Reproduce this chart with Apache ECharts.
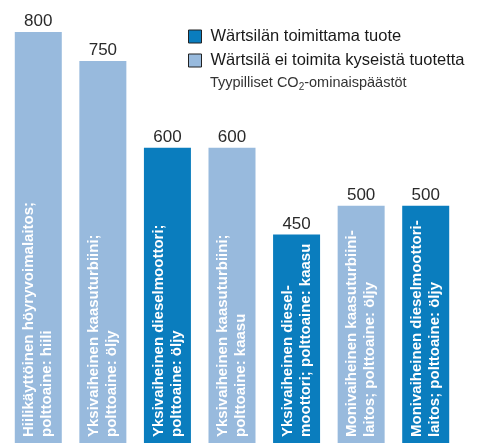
<!DOCTYPE html>
<html>
<head>
<meta charset="utf-8">
<script src="https://cdn.jsdelivr.net/npm/echarts@6/dist/echarts.min.js"></script>
<style>
    html, body { margin: 0; padding: 0; background: #fff; }
    #chart { width: 477px; height: 444px; }
</style>
</head>
<body>
<div id="chart"></div>
<script>
const categories = [
    'Hiilikäyttöinen höyryvoimalaitos;\npolttoaine: hiili',
    'Yksivaiheinen kaasuturbiini;\npolttoaine: öljy',
    'Yksivaiheinen dieselmoottori;\npolttoaine: öljy',
    'Yksivaiheinen kaasuturbiini;\npolttoaine: kaasu',
    'Yksivaiheinen diesel-\nmoottori; polttoaine: kaasu',
    'Monivaiheinen kaasuturbiini-\nlaitos; polttoaine: öljy',
    'Monivaiheinen dieselmoottori-\nlaitos; polttoaine: öljy'
];
const emissions = [800, 750, 600, 600, 450, 500, 500];
// 1 = Wärtsilän toimittama tuote
const suppliedByWartsila = [0, 0, 1, 0, 1, 0, 1];
const seriesNames = ['Wärtsilän toimittama tuote', 'Wärtsilä ei toimita kyseistä tuotetta'];

const darkBlue = '#0a7dbe';
const lightBlue = '#98badd';
const font = '"Liberation Sans", Arial, sans-serif';

const insideLabel = {
    show: true,
    position: 'insideBottom',
    rotate: 90,
    align: 'left',
    verticalAlign: 'middle',
    distance: 6,
    color: '#fff',
    fontFamily: font,
    fontWeight: 'bold',
    fontSize: 15,
    lineHeight: 18,
    formatter: (p) => p.name
};

const option = {
    animation: false,
    textStyle: { fontFamily: font },
    title: {
        text: 'Tyypilliset CO{sub|2}-ominaispäästöt',
        left: 210,
        top: 74,
        padding: 0,
        textStyle: {
            fontFamily: font,
            fontSize: 14.5,
            fontWeight: 'normal',
            color: '#333',
            rich: {
                sub: { fontSize: 10, color: '#333', padding: [8, 0, 0, 0] }
            }
        }
    },
    legend: {
        data: seriesNames,
        orient: 'vertical',
        left: 188,
        top: 28,
        padding: 0,
        itemWidth: 13,
        itemHeight: 13,
        itemGap: 7,
        icon: 'rect',
        itemStyle: { borderColor: '#222', borderWidth: 1 },
        textStyle: {
            fontFamily: font,
            fontSize: 16.5,
            color: '#1a1a1a',
            lineHeight: 14,
            padding: [0, 0, 0, 4]
        },
        selectedMode: false
    },
    grid: {
        left: 6,
        right: 19,
        top: 32,
        bottom: 1
    },
    xAxis: {
        type: 'category',
        data: categories,
        axisLine: { show: false },
        axisTick: { show: false },
        axisLabel: { show: false }
    },
    yAxis: {
        type: 'value',
        min: 90,
        max: 800,
        show: false,
        splitLine: { show: false }
    },
    series: [
        {
            name: seriesNames[0],
            type: 'bar',
            barWidth: 47,
            barGap: '-100%',
            itemStyle: { color: darkBlue },
            label: insideLabel,
            data: emissions.map((v, i) => (suppliedByWartsila[i] ? v : '-'))
        },
        {
            name: seriesNames[1],
            type: 'bar',
            barWidth: 47,
            barGap: '-100%',
            itemStyle: { color: lightBlue },
            label: insideLabel,
            data: emissions.map((v, i) => (suppliedByWartsila[i] ? '-' : v))
        },
        {
            // arvot pylväiden yläpuolella
            name: 'arvot',
            type: 'bar',
            barWidth: 47,
            barGap: '-100%',
            silent: true,
            itemStyle: { color: 'rgba(0,0,0,0)' },
            label: {
                show: true,
                position: 'top',
                distance: 2,
                color: '#2a2a2a',
                fontFamily: font,
                fontSize: 17,
                lineHeight: 17
            },
            data: emissions
        }
    ]
};

const myChart = echarts.init(document.getElementById('chart'));
myChart.setOption(option);
</script>
</body>
</html>
